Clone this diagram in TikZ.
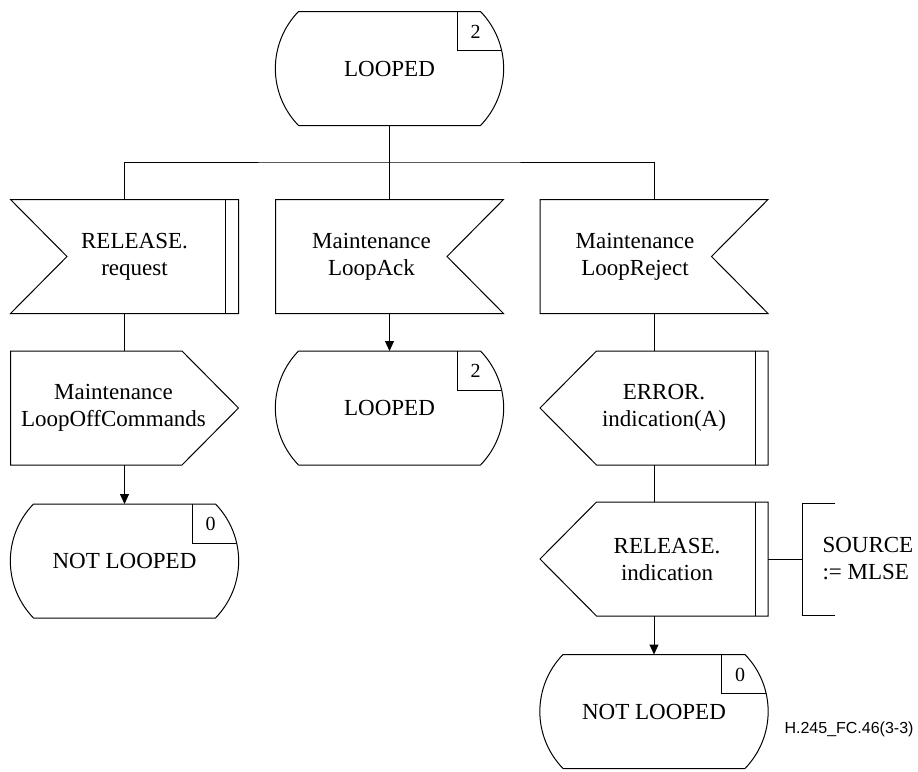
\documentclass[tikz,border=0pt]{standalone}
\usepackage{fontspec}
\setmainfont{Liberation Serif}
\newfontfamily\figfont{Liberation Sans}
\usetikzlibrary{arrows.meta}

% SDL state: name, position, text, number
\newcommand\sdlstate[4]{%
  \node[sdlbox, txt] (#1) at (#2) {#3};
  \draw ([xshift=23pt]#1.south west) to[bend left=44] ([xshift=23pt]#1.north west) -- ([xshift=-23pt]#1.north east)
    to[bend left=44] ([xshift=-23pt]#1.south east) -- cycle;
  \draw ([xshift=67.5pt]#1.north) |- ([xshift=111.6pt,yshift=-39pt]#1.north);
  \node[numtxt] (#1-num) at ([xshift=86pt,yshift=-20pt]#1.north) {#4};
}

\begin{document}
\begin{tikzpicture}[x=1pt,y=-1pt,line width=1pt,
  sdlbox/.style={minimum width=227pt, minimum height=113pt, inner sep=0pt},
  txt/.style={font=\fontsize{23}{27}\selectfont, align=center, inner sep=0pt},
  numtxt/.style={font=\fontsize{20}{24}\selectfont, inner sep=0pt},
  flow/.style={-{Triangle[length=10pt,width=9pt]}}]
\useasboundingbox (0,0) rectangle (918,771);

% states
\sdlstate{s0}{389.5,68.5}{LOOPED}{2}
\sdlstate{s1}{389.5,408}{LOOPED}{2}
\sdlstate{s2}{124.5,561}{NOT LOOPED}{0}
\sdlstate{s3}{654,711.5}{NOT LOOPED}{0}

% inputs
\node[sdlbox] (in1) at (124.5,256.5) {};
\draw (in1.north west) -- (in1.north east) -- (in1.south east) -- (in1.south west) -- ([xshift=56.5pt]in1.west) -- cycle;
\draw ([xshift=-13pt]in1.north east) -- ([xshift=-13pt]in1.south east);
\node[txt] (in1-t) at ([xshift=10pt]in1.center) {RELEASE.\\request};
\node[sdlbox] (in2) at (389.5,256.5) {};
\draw (in2.north west) -- (in2.north east) -- ([xshift=-56.5pt]in2.east) -- (in2.south east) -- (in2.south west) -- cycle;
\node[txt] (in2-t) at ([xshift=-18pt]in2.center) {Maintenance\\LoopAck};
\node[sdlbox] (in3) at (654,256.5) {};
\draw (in3.north west) -- (in3.north east) -- ([xshift=-56.5pt]in3.east) -- (in3.south east) -- (in3.south west) -- cycle;
\node[txt] (in3-t) at ([xshift=-19pt]in3.center) {Maintenance\\LoopReject};

% outputs
\node[sdlbox] (out1) at (124.5,408) {};
\draw (out1.north west) -- ([xshift=-56.5pt]out1.north east) -- (out1.east) -- ([xshift=-56.5pt]out1.south east) -- (out1.south west) -- cycle;
\node[txt] (out1-t) at ([xshift=-11pt]out1.center) {Maintenance\\LoopOffCommands};
\node[sdlbox] (out3) at (654,408) {};
\draw (out3.west) -- ([xshift=56.5pt]out3.north west) -- (out3.north east) -- (out3.south east) -- ([xshift=56.5pt]out3.south west) -- cycle;
\draw ([xshift=-13pt]out3.north east) -- ([xshift=-13pt]out3.south east);
\node[txt] (out3-t) at ([xshift=10pt]out3.center) {ERROR.\\indication(A)};
\node[sdlbox] (out4) at (654,559) {};
\draw (out4.west) -- ([xshift=56.5pt]out4.north west) -- (out4.north east) -- (out4.south east) -- ([xshift=56.5pt]out4.south west) -- cycle;
\draw ([xshift=-13pt]out4.north east) -- ([xshift=-13pt]out4.south east);
\node[txt] (out4-t) at ([xshift=13pt]out4.center) {RELEASE.\\indication};

% comment
\node[txt, align=left, anchor=west, minimum height=111pt, inner xsep=20pt] (cmt) at (802,559) {SOURCE\\:= MLSE};
\draw ([xshift=33pt]cmt.north west) -- (cmt.north west) -- (cmt.south west) -- ([xshift=33pt]cmt.south west);

% connectors
\coordinate (bus) at (389.5,162);
\draw (s0.south) -- (bus) -- (in2.north);
\draw (in1.north) |- (bus) -| (in3.north);
\draw (in1.south) -- (out1.north);
\draw[flow] (out1.south) -- (s2.north);
\draw[flow] (in2.south) -- (s1.north);
\draw (in3.south) -- (out3.north);
\draw (out3.south) -- (out4.north);
\draw[flow] (out4.south) -- (s3.north);
\draw (out4.east) -- (cmt.west);

\node[font=\figfont\fontsize{16}{19}\selectfont, anchor=east, inner sep=0pt] (fig) at (914,729) {H.245\_FC.46(3-3)};
\end{tikzpicture}
\end{document}
